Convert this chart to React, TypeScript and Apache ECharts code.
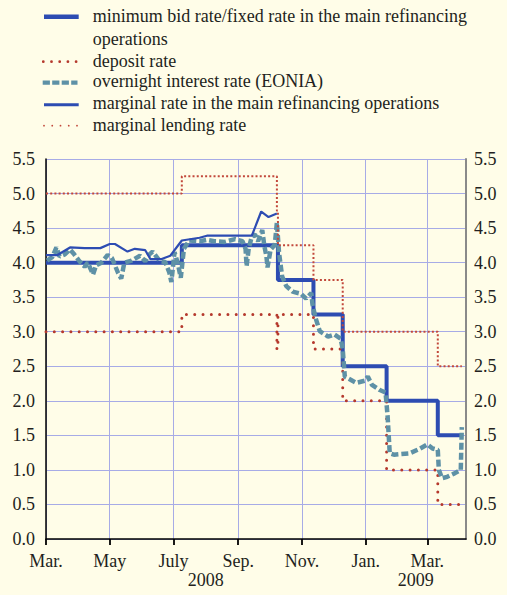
import React, { useEffect, useRef } from "react";
import * as echarts from "echarts";

// ---------- data ----------
const START_DATE = "2008-03-01";
const END_DAY = 402; // axis end (days after START_DATE)

const monthTicks: [string, string][] = [
  ["2008-03-01", "Mar."],
  ["2008-05-01", "May"],
  ["2008-07-01", "July"],
  ["2008-09-01", "Sep."],
  ["2008-11-01", "Nov."],
  ["2009-01-01", "Jan."],
  ["2009-03-01", "Mar."],
];
const yearLabels: [string, string][] = [
  ["2008", "2008-08-01"],
  ["2009", "2009-02-18"],
];

const legendNames = [
  "minimum bid rate/fixed rate in the main refinancing",
  "operations",
  "deposit rate",
  "overnight interest rate (EONIA)",
  "marginal rate in the main refinancing operations",
  "marginal lending rate",
];

// minimum bid rate / fixed rate (value valid from date)
const mroRate: [string, number][] = [
  ["2008-03-01", 4.0],
  ["2008-07-09", 4.25],
  ["2008-10-09", 3.75],
  ["2008-11-12", 3.25],
  ["2008-12-10", 2.5],
  ["2009-01-21", 2.0],
  ["2009-03-11", 1.5],
  ["2009-04-03", 1.5],
];

const depositRate: [string, number][] = [
  ["2008-03-01", 3.0],
  ["2008-07-09", 3.25],
  ["2008-10-08", 2.75],
  ["2008-10-09", 3.25],
  ["2008-11-12", 2.75],
  ["2008-12-10", 2.0],
  ["2009-01-21", 1.0],
  ["2009-03-11", 0.5],
  ["2009-03-31", 0.5],
];

const lendingRate: [string, number][] = [
  ["2008-03-01", 5.0],
  ["2008-07-09", 5.25],
  ["2008-10-08", 4.75],
  ["2008-10-09", 4.25],
  ["2008-11-12", 3.75],
  ["2008-12-10", 3.0],
  ["2009-03-11", 2.5],
  ["2009-04-03", 2.5],
];

const marginalRate: [string, number][] = [
  ["2008-03-01", 4.11],
  ["2008-03-12", 4.11],
  ["2008-03-24", 4.22],
  ["2008-04-07", 4.21],
  ["2008-04-22", 4.21],
  ["2008-05-01", 4.27],
  ["2008-05-06", 4.27],
  ["2008-05-18", 4.16],
  ["2008-05-25", 4.2],
  ["2008-06-04", 4.18],
  ["2008-06-09", 4.05],
  ["2008-06-19", 4.05],
  ["2008-06-28", 4.1],
  ["2008-07-09", 4.32],
  ["2008-07-26", 4.36],
  ["2008-08-02", 4.39],
  ["2008-09-14", 4.39],
  ["2008-09-23", 4.74],
  ["2008-09-30", 4.66],
  ["2008-10-08", 4.71],
];

const eonia: [string, number][] = [
  ["2008-03-02", 4.03], ["2008-03-07", 4.08], ["2008-03-11", 4.22], ["2008-03-14", 4.09],
  ["2008-03-19", 4.12], ["2008-03-24", 4.19], ["2008-03-28", 4.12], ["2008-04-02", 4.02],
  ["2008-04-07", 3.94], ["2008-04-10", 4.0], ["2008-04-15", 3.83], ["2008-04-18", 3.96],
  ["2008-04-23", 4.0], ["2008-04-29", 4.11], ["2008-05-03", 4.07], ["2008-05-09", 3.85],
  ["2008-05-12", 3.77], ["2008-05-15", 4.0], ["2008-05-22", 4.03], ["2008-05-30", 4.1],
  ["2008-06-04", 4.02], ["2008-06-08", 4.12], ["2008-06-11", 4.16], ["2008-06-18", 4.02],
  ["2008-06-23", 4.01], ["2008-06-27", 3.86], ["2008-06-29", 3.72], ["2008-07-02", 4.15],
  ["2008-07-05", 4.0], ["2008-07-08", 3.78], ["2008-07-11", 4.2], ["2008-07-16", 4.32],
  ["2008-07-26", 4.31], ["2008-08-02", 4.33], ["2008-08-09", 4.31], ["2008-08-19", 4.3],
  ["2008-08-29", 4.34], ["2008-09-05", 4.31], ["2008-09-08", 4.2], ["2008-09-09", 3.95],
  ["2008-09-11", 4.2], ["2008-09-14", 4.38], ["2008-09-17", 4.41], ["2008-09-20", 4.31],
  ["2008-09-24", 4.47], ["2008-09-26", 4.24], ["2008-09-28", 4.09], ["2008-09-29", 3.93],
  ["2008-10-02", 4.19], ["2008-10-06", 4.26], ["2008-10-08", 4.58], ["2008-10-10", 4.15],
  ["2008-10-13", 3.8], ["2008-10-17", 3.66], ["2008-10-23", 3.58], ["2008-10-31", 3.55],
  ["2008-11-05", 3.48], ["2008-11-10", 3.56], ["2008-11-11", 3.4], ["2008-11-14", 3.2],
  ["2008-11-18", 3.01], ["2008-11-26", 2.93], ["2008-12-02", 2.96], ["2008-12-08", 2.9],
  ["2008-12-10", 2.75], ["2008-12-12", 2.35], ["2008-12-23", 2.26], ["2008-12-31", 2.29],
  ["2009-01-03", 2.35], ["2009-01-07", 2.23], ["2009-01-14", 2.16], ["2009-01-20", 2.12],
  ["2009-01-22", 1.77], ["2009-01-24", 1.24], ["2009-01-28", 1.22], ["2009-02-04", 1.23],
  ["2009-02-12", 1.24], ["2009-02-21", 1.3], ["2009-03-01", 1.37], ["2009-03-06", 1.31],
  ["2009-03-11", 1.29], ["2009-03-12", 1.0], ["2009-03-15", 0.88], ["2009-03-20", 0.9],
  ["2009-03-27", 0.95], ["2009-04-02", 1.0], ["2009-04-03", 1.62],
];

// ---------- helpers ----------
const toUTC = (s: string) => {
  const [y, m, d] = s.split("-").map(Number);
  return Date.UTC(y, m - 1, d);
};
const day = (s: string) => Math.round((toUTC(s) - toUTC(START_DATE)) / 86400000);
const toXY = (arr: [string, number][]) => arr.map(([d, v]) => [day(d), v]);

const FONT = "Liberation Serif, Times New Roman, serif";
const TEXT = "#231f20";
const GRID = "#a7abe6";
const BLUE = "#2d4cb2";
const RED = "#b5392d";
const RED2 = "#c2483b";
const TEAL = "#5e91a6";

export default function App() {
  const ref = useRef<HTMLDivElement>(null);

  useEffect(() => {
    const el = ref.current;
    if (!el) return;
    const chart = echarts.init(el, null, { renderer: "svg" });
    const tickDays = monthTicks.map((t) => day(t[0]));
    const labelFor = (v: number) => {
      for (const [d, name] of monthTicks) if (Math.abs(day(d) - v) <= 2) return name;
      return "";
    };
    const yLabel = {
      formatter: (v: number) => v.toFixed(1),
      fontFamily: FONT,
      fontSize: 18,
      color: TEXT,
    };

    chart.setOption({
      animation: false,
      backgroundColor: "#fffde8",
      textStyle: { fontFamily: FONT },
      grid: { left: 46, top: 159, width: 420, height: 380, containLabel: false },
      xAxis: {
        type: "value",
        min: 0,
        max: END_DAY,
        interval: 61,
        axisLine: { show: true, onZero: false, lineStyle: { color: "#000", width: 1.5 } },
        axisTick: { show: true, length: 6, customValues: tickDays, lineStyle: { color: "#000", width: 1.8 } },
        axisLabel: {
          customValues: tickDays,
          formatter: labelFor,
          margin: 13,
          fontFamily: FONT,
          fontSize: 18,
          color: TEXT,
          showMinLabel: true,
          showMaxLabel: true,
        },
        splitLine: { show: true, lineStyle: { color: GRID, width: 1 } },
      },
      yAxis: [
        {
          type: "value",
          position: "left",
          min: 0,
          max: 5.5,
          interval: 0.5,
          axisLine: { show: true, onZero: false, lineStyle: { color: "#000", width: 1.5 } },
          axisTick: { show: false },
          axisLabel: { ...yLabel, margin: 11 },
          splitLine: { show: true, lineStyle: { color: GRID, width: 1 } },
        },
        {
          type: "value",
          position: "right",
          min: 0,
          max: 5.5,
          interval: 0.5,
          axisLine: { show: true, onZero: false, lineStyle: { color: "#8a8a8a", width: 2 } },
          axisTick: { show: false },
          axisLabel: { ...yLabel, margin: 8 },
          splitLine: { show: false },
        },
      ],
      series: [
        {
          name: legendNames[0],
          type: "line",
          data: toXY(mroRate),
          step: "end",
          symbol: "none",
          z: 2,
          lineStyle: { color: BLUE, width: 4 },
          itemStyle: { color: BLUE },
        },
        {
          name: legendNames[2],
          type: "line",
          data: toXY(depositRate),
          step: "end",
          symbol: "none",
          z: 3,
          lineStyle: { color: RED, width: 3, type: [0, 8.3], cap: "round" },
          itemStyle: { color: RED },
        },
        {
          name: legendNames[3],
          type: "line",
          data: toXY(eonia),
          symbol: "none",
          z: 4,
          lineStyle: { color: TEAL, width: 4.5, type: [7, 3] },
          itemStyle: { color: TEAL },
        },
        {
          name: legendNames[4],
          type: "line",
          data: toXY(marginalRate),
          symbol: "none",
          z: 5,
          lineStyle: { color: BLUE, width: 2.2 },
          itemStyle: { color: BLUE },
        },
        {
          name: legendNames[5],
          type: "line",
          data: toXY(lendingRate),
          step: "end",
          symbol: "none",
          z: 6,
          lineStyle: { color: RED2, width: 2, type: [2, 2.2] },
          itemStyle: { color: RED2 },
        },
      ],
    });

    const txt = (text: string, x: number, y: number, align = "left") => ({
      type: "text",
      x,
      y,
      silent: true,
      style: { text, fill: TEXT, fontFamily: FONT, fontSize: 18, align, verticalAlign: "middle" },
    });
    const ln = (y: number, x1: number, x2: number, style: any) => ({
      type: "line",
      silent: true,
      shape: { x1, y1: y, x2, y2: y },
      style: { fill: null, ...style },
    });

    const yearGraphics = yearLabels.map(([t, d]) => {
      const px = chart.convertToPixel({ xAxisIndex: 0 }, day(d)) as number;
      return txt(t, px, 580, "center");
    });

    chart.setOption({
      graphic: [
        ln(16.7, 44, 78.7, { stroke: BLUE, lineWidth: 4.5 }),
        txt(legendNames[0], 92.7, 15.6),
        txt(legendNames[1], 92.7, 38.9),
        ln(61.7, 43.3, 77, { stroke: RED, lineWidth: 2.8, lineDash: [0, 8.2], lineCap: "round" }),
        txt(legendNames[2], 92.7, 60.6),
        ln(82.7, 42.7, 77.5, { stroke: TEAL, lineWidth: 4.3, lineDash: [7.2, 2.3] }),
        txt(legendNames[3], 92.7, 81.2),
        ln(104.7, 44, 78.7, { stroke: BLUE, lineWidth: 3 }),
        txt(legendNames[4], 92.7, 102.9),
        ln(125.7, 44, 79, { stroke: RED2, lineWidth: 1.8, lineDash: [0, 8.25], lineCap: "round" }),
        txt(legendNames[5], 92.7, 124.6),
        ...yearGraphics,
      ],
    });

    return () => chart.dispose();
  }, []);

  return (
    <div
      ref={ref}
      style={{ position: "fixed", left: 0, top: 0, width: 507, height: 595 }}
    />
  );
}
